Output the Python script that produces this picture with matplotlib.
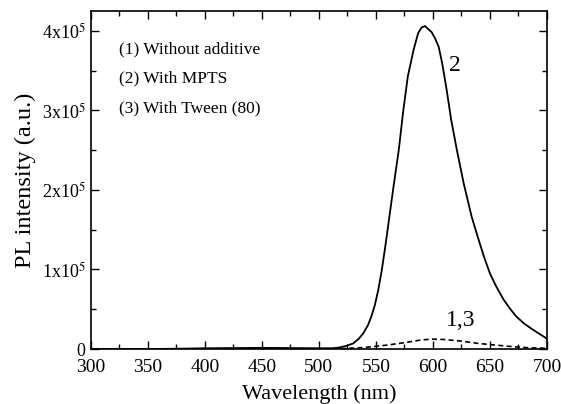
import matplotlib
matplotlib.use("Agg")
import matplotlib.pyplot as plt
from matplotlib.ticker import MultipleLocator, FixedLocator

plt.rcParams['font.family'] = ['Liberation Serif', 'DejaVu Serif']
plt.rcParams['mathtext.fontset'] = 'stix'

# curve 2 (with MPTS), intensity in units of 1e5
wl_2 = [300, 350, 380, 400, 450, 500, 512, 518, 524, 530, 535, 539, 543, 546, 549,
        552, 555, 558, 561, 565, 570, 574, 578, 583, 587, 590, 593, 596, 599, 602,
        605, 608, 610, 612, 616, 621, 627, 634, 641, 645, 650, 655, 662, 668, 673,
        680, 688, 700]
pl_2 = [0.0, 0.0, 0.005, 0.01, 0.015, 0.01, 0.01, 0.02, 0.04, 0.07, 0.13, 0.2, 0.3,
        0.41, 0.55, 0.74, 0.98, 1.27, 1.58, 2.0, 2.5, 3.0, 3.43, 3.76, 3.97, 4.04,
        4.06, 4.02, 3.98, 3.9, 3.8, 3.6, 3.43, 3.26, 2.88, 2.5, 2.08, 1.66, 1.33, 1.15,
        0.95, 0.8, 0.62, 0.5, 0.41, 0.32, 0.24, 0.13]
# curves 1,3 (without additive / with Tween)
wl_13 = [300, 400, 500, 520, 540, 560, 575, 590, 600, 610, 625, 640, 655, 670, 685, 700]
pl_13 = [0.0, 0.003, 0.003, 0.005, 0.02, 0.05, 0.08, 0.115, 0.125, 0.12, 0.1, 0.07,
         0.05, 0.03, 0.015, 0.01]
scale = 1e5

legend_lines = ["(1) Without additive", "(2) With MPTS", "(3) With Tween (80)"]
ytick_vals = [0, 1, 2, 3, 4]
ytick_labels = ["0", "1x10$^5$", "2x10$^5$", "3x10$^5$", "4x10$^5$"]

fig = plt.figure(figsize=(5.61, 4.04), dpi=100)
ax = fig.add_axes([0.162, 0.136, 0.813, 0.837])

ax.plot(wl_2, [v * scale for v in pl_2], color='black', lw=1.3)
ax.plot(wl_13, [v * scale for v in pl_13], color='black', lw=1.2, linestyle=(0, (3, 2)))

ax.set_xlim(300, 700)
ax.set_ylim(0, 4.25e5)
ax.xaxis.set_major_locator(MultipleLocator(50))
ax.xaxis.set_minor_locator(MultipleLocator(25))
ax.yaxis.set_major_locator(FixedLocator([v * scale for v in ytick_vals]))
ax.yaxis.set_minor_locator(MultipleLocator(0.5e5))
ax.set_yticklabels(ytick_labels)
ax.tick_params(which='both', direction='in', top=True, right=True, width=1.0)
ax.tick_params(axis='x', labelsize=14, pad=7)
ax.tick_params(axis='y', labelsize=13, pad=4)
ax.tick_params(which='major', length=6)
ax.tick_params(which='minor', length=3.5)
for s in ax.spines.values():
    s.set_linewidth(1.2)

ax.set_xlabel("Wavelength (nm)", fontsize=16, labelpad=6)
ax.set_ylabel("PL intensity (a.u.)", fontsize=17.5, labelpad=4)

for i, t in enumerate(legend_lines):
    ax.text(325, (3.77 - 0.37 * i) * scale, t, fontsize=12.5, va='center', ha='left')

ax.text(619, 3.57e5, "2", fontsize=17, ha='center', va='center')
ax.text(624, 0.36e5, "1,3", fontsize=17, ha='center', va='center')

fig.savefig("out.png", dpi=100)
